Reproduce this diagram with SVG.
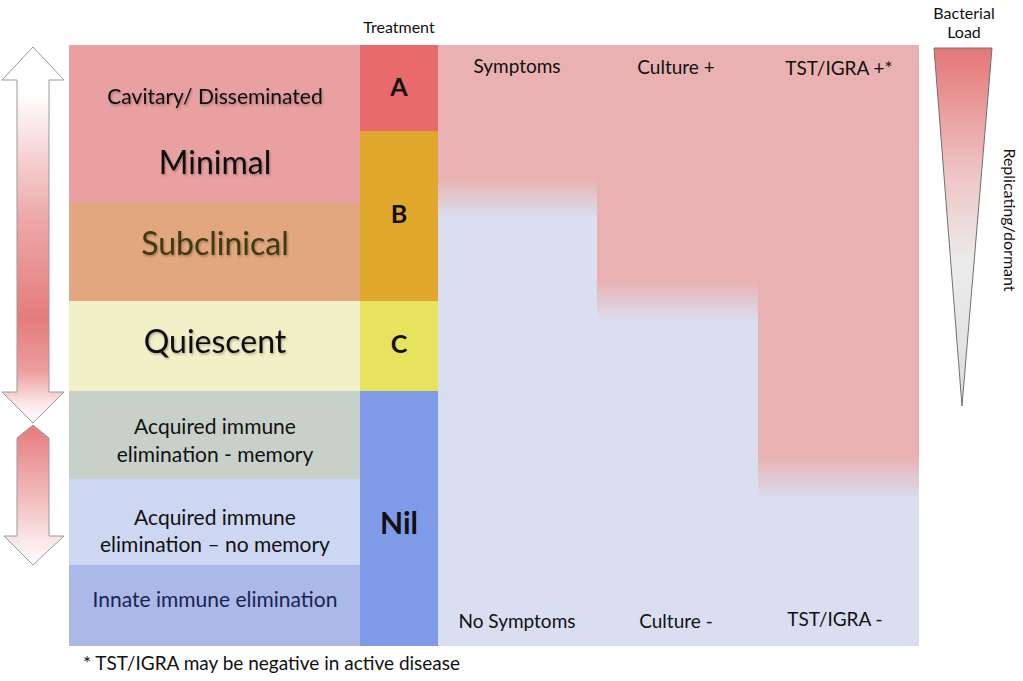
<svg xmlns="http://www.w3.org/2000/svg" width="1023" height="681" viewBox="0 0 1023 681">
<style>
text{font-family:Lato,"Open Sans","Liberation Sans",sans-serif;fill:#111;text-anchor:middle}
.big{font-size:32px}
.mid{font-size:21px}
.hdr{font-size:19px}
.tr{font-size:25px;font-weight:bold}
.sm{font-size:16px}
.arrow{stroke:#9a9a9a;stroke-width:1}
</style>
<defs>
<filter id="sh" x="-10%" y="-20%" width="120%" height="150%">
<feDropShadow dx="1" dy="1.5" stdDeviation="1.3" flood-color="#000" flood-opacity="0.3"/>
</filter>
<linearGradient id="gSym" x1="0" y1="45" x2="0" y2="646" gradientUnits="userSpaceOnUse">
<stop offset="0.221" stop-color="#e9b1b1"/><stop offset="0.288" stop-color="#d9dff1"/>
</linearGradient>
<linearGradient id="gCul" x1="0" y1="45" x2="0" y2="646" gradientUnits="userSpaceOnUse">
<stop offset="0.391" stop-color="#e9b1b1"/><stop offset="0.461" stop-color="#d9dff1"/>
</linearGradient>
<linearGradient id="gTst" x1="0" y1="45" x2="0" y2="646" gradientUnits="userSpaceOnUse">
<stop offset="0.682" stop-color="#e9b1b1"/><stop offset="0.757" stop-color="#d9dff1"/>
</linearGradient>
<linearGradient id="gA1" x1="0" y1="47" x2="0" y2="423" gradientUnits="userSpaceOnUse">
<stop offset="0" stop-color="#ffffff"/><stop offset="0.12" stop-color="#ffffff"/>
<stop offset="0.45" stop-color="#eea9a9"/><stop offset="0.72" stop-color="#e57c7c"/>
<stop offset="0.86" stop-color="#ec9d9d"/><stop offset="0.95" stop-color="#fbe8e8"/><stop offset="1" stop-color="#ffffff"/>
</linearGradient>
<linearGradient id="gA2" x1="0" y1="425" x2="0" y2="565" gradientUnits="userSpaceOnUse">
<stop offset="0" stop-color="#e47c7c"/><stop offset="0.5" stop-color="#f2b9b9"/><stop offset="1" stop-color="#ffffff"/>
</linearGradient>
<linearGradient id="gTri" x1="0" y1="48" x2="0" y2="406" gradientUnits="userSpaceOnUse">
<stop offset="0" stop-color="#e57676"/><stop offset="0.35" stop-color="#efc4c4"/>
<stop offset="0.6" stop-color="#ececec"/><stop offset="1" stop-color="#dcdcdc"/>
</linearGradient>
</defs>

<g id="left-arrows">
<path class="arrow" fill="url(#gA1)" d="M33,47 L64,80 L49,80 L49,392 L64,392 L33,423 L2,392 L17,392 L17,80 L2,80 Z"/>
<path class="arrow" fill="url(#gA2)" d="M33,425 L49,438 L49,536 L64,536 L33,565 L4,536 L17,536 L17,438 Z"/>
</g>

<g id="right-columns">
<rect x="438" y="45" width="159.5" height="601" fill="url(#gSym)"/>
<rect x="597" y="45" width="161.5" height="601" fill="url(#gCul)"/>
<rect x="758" y="45" width="161" height="601" fill="url(#gTst)"/>
<text class="hdr" x="517" y="73">Symptoms</text>
<text class="hdr" x="676" y="74">Culture +</text>
<text class="hdr" x="839" y="75">TST/IGRA +*</text>
<text class="hdr" x="517" y="628">No Symptoms</text>
<text class="hdr" x="676" y="628">Culture -</text>
<text class="hdr" x="835" y="626">TST/IGRA -</text>
</g>

<g id="row-minimal">
<rect x="69" y="45" width="291" height="158" fill="#e9a0a0"/>
<text class="mid" x="215" y="104" filter="url(#sh)">Cavitary/ Disseminated</text>
<text class="big" x="215" y="174" filter="url(#sh)">Minimal</text>
</g>
<g id="row-subclinical">
<rect x="69" y="203" width="291" height="98" fill="#e3a77f"/>
<text class="big" x="215" y="255" style="fill:#3d3a12" filter="url(#sh)">Subclinical</text>
</g>
<g id="row-quiescent">
<rect x="69" y="301" width="291" height="90" fill="#f1f1c8"/>
<text class="big" x="215" y="353" filter="url(#sh)">Quiescent</text>
</g>
<g id="row-memory">
<rect x="69" y="391" width="291" height="88" fill="#c8d1c9"/>
<text class="mid" x="215" y="434">Acquired immune</text>
<text class="mid" x="215" y="462">elimination - memory</text>
</g>
<g id="row-nomemory">
<rect x="69" y="479" width="291" height="86" fill="#cdd7f2"/>
<text class="mid" x="215" y="525">Acquired immune</text>
<text class="mid" x="215" y="552">elimination – no memory</text>
</g>
<g id="row-innate">
<rect x="69" y="565" width="291" height="81" fill="#aab9e8"/>
<text class="mid" x="215" y="607" style="fill:#1a2250">Innate immune elimination</text>
</g>

<g id="treatment">
<text class="sm" x="399" y="33">Treatment</text>
<rect x="360" y="45" width="78" height="86" fill="#e86a6a"/>
<rect x="360" y="131" width="78" height="170" fill="#e0a92d"/>
<rect x="360" y="301" width="78" height="90" fill="#e7e35f"/>
<rect x="360" y="391" width="78" height="255" fill="#7f9be7"/>
<text class="tr" x="399" y="96">A</text>
<text class="tr" x="399" y="223">B</text>
<text class="tr" x="399" y="353">C</text>
<text class="tr" x="399" y="534" style="font-size:30px">Nil</text>
</g>

<g id="bacterial-load">
<text class="sm" x="964" y="19">Bacterial</text>
<text class="sm" x="964" y="38">Load</text>
<path d="M934,48 L992,48 L962,406 Z" fill="url(#gTri)" stroke="#707070" stroke-width="1"/>
<text class="sm" x="0" y="0" transform="translate(1004,220) rotate(90)">Replicating/dormant</text>
</g>

<text class="hdr" x="83" y="670" style="text-anchor:start">* TST/IGRA may be negative in active disease</text>
</svg>
